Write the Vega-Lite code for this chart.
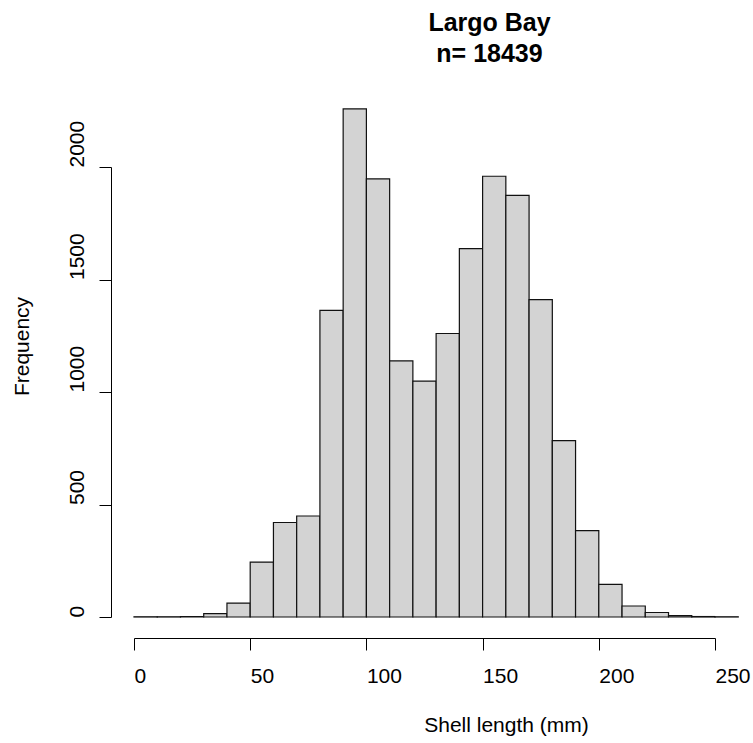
{
  "$schema": "https://vega.github.io/schema/vega-lite/v6.json",
  "autosize": "none",
  "width": 581,
  "height": 450,
  "padding": {"left": 134, "top": 167, "right": 38, "bottom": 126},
  "background": "white",
  "config": {
    "view": {"stroke": null},
    "font": "Liberation Sans"
  },
  "title": {
    "text": ["Largo Bay", "n= 18439"],
    "font": "Liberation Sans",
    "fontSize": 25,
    "fontWeight": "bold",
    "color": "black",
    "lineHeight": 31,
    "anchor": "middle",
    "frame": "group",
    "dx": 65,
    "offset": 41
  },
  "data": {
    "values": [
      {"start": 0, "end": 10, "count": 1},
      {"start": 10, "end": 20, "count": 1},
      {"start": 20, "end": 30, "count": 2},
      {"start": 30, "end": 40, "count": 15},
      {"start": 40, "end": 50, "count": 62},
      {"start": 50, "end": 60, "count": 244},
      {"start": 60, "end": 70, "count": 420},
      {"start": 70, "end": 80, "count": 449},
      {"start": 80, "end": 90, "count": 1363},
      {"start": 90, "end": 100, "count": 2258},
      {"start": 100, "end": 110, "count": 1947},
      {"start": 110, "end": 120, "count": 1138},
      {"start": 120, "end": 130, "count": 1048},
      {"start": 130, "end": 140, "count": 1260},
      {"start": 140, "end": 150, "count": 1637},
      {"start": 150, "end": 160, "count": 1959},
      {"start": 160, "end": 170, "count": 1874},
      {"start": 170, "end": 180, "count": 1411},
      {"start": 180, "end": 190, "count": 784},
      {"start": 190, "end": 200, "count": 384},
      {"start": 200, "end": 210, "count": 145},
      {"start": 210, "end": 220, "count": 49},
      {"start": 220, "end": 230, "count": 20},
      {"start": 230, "end": 240, "count": 6},
      {"start": 240, "end": 250, "count": 2},
      {"start": 250, "end": 260, "count": 1}
    ]
  },
  "mark": {"type": "rect", "fill": "#d3d3d3", "stroke": "#111111", "strokeWidth": 1.2},
  "encoding": {
    "x": {
      "field": "start",
      "type": "quantitative",
      "scale": {"domain": [0, 250], "nice": false, "zero": false},
      "axis": {
        "values": [0, 50, 100, 150, 200, 250],
        "grid": false,
        "offset": 21,
        "domainColor": "black",
        "tickColor": "black",
        "tickSize": 12,
        "labelFontSize": 21,
        "labelColor": "black",
        "labelAlign": "left",
        "labelPadding": 15,
        "labelFlush": false,
        "labelOverlap": false,
        "title": "Shell length (mm)",
        "titleFontSize": 21,
        "titleFontWeight": "normal",
        "titleColor": "black",
        "titleX": 372,
        "titleY": 87,
        "titleAlign": "center",
        "titleBaseline": "middle"
      }
    },
    "x2": {"field": "end"},
    "y": {
      "field": "count",
      "type": "quantitative",
      "scale": {"domain": [0, 2000], "nice": false},
      "axis": {
        "values": [0, 500, 1000, 1500, 2000],
        "format": "d",
        "grid": false,
        "offset": 23,
        "domainColor": "black",
        "tickColor": "black",
        "tickSize": 12,
        "labelFontSize": 21,
        "labelColor": "black",
        "labelAngle": -90,
        "labelAlign": "left",
        "labelBaseline": "bottom",
        "labelPadding": 12,
        "labelFlush": false,
        "labelOverlap": false,
        "title": "Frequency",
        "titleFontSize": 21,
        "titleFontWeight": "normal",
        "titleColor": "black",
        "titleAngle": -90,
        "titleX": -89,
        "titleY": 179,
        "titleAlign": "center",
        "titleBaseline": "middle"
      }
    },
    "y2": {"datum": 0}
  }
}
